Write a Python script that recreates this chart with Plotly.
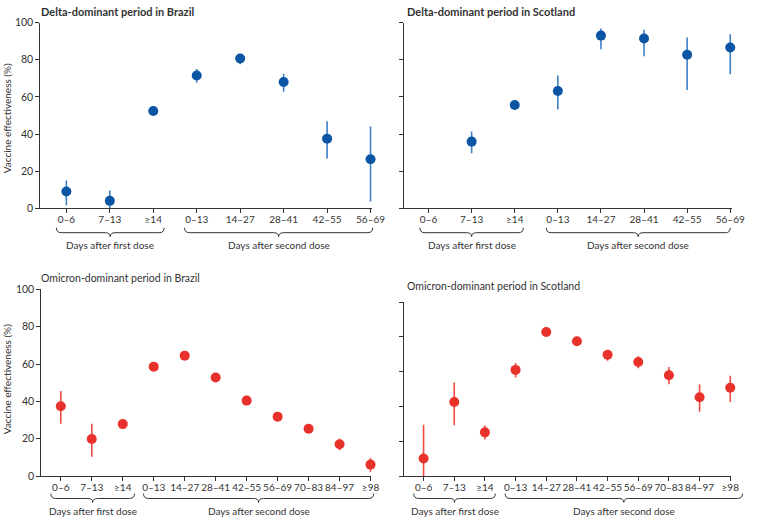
import plotly.graph_objects as go

# ---- data ----
delta_cats = ["0–6", "7–13", "≥14", "0–13", "14–27", "28–41", "42–55", "56–69"]
omicron_cats = ["0–6", "7–13", "≥14", "0–13", "14–27", "28–41", "42–55",
                "56–69", "70–83", "84–97", "≥98"]

delta_brazil = [9, 4, 52.4, 71.5, 80.7, 68, 37.5, 26.4]
delta_brazil_lo = [1.6, 0, 51, 67.6, 77.6, 62.7, 26.8, 3.7]
delta_brazil_hi = [15, 9.6, 54, 75, 83, 72.5, 46.9, 44]

delta_scot = [None, 35.9, 55.6, 63.2, 93, 91.4, 82.7, 86.6]
delta_scot_lo = [None, 29.6, 54.5, 53.2, 85.7, 81.9, 63.7, 72.2]
delta_scot_hi = [None, 41.4, 56.8, 71.5, 96.8, 96.1, 92, 93.7]

omi_brazil = [37.4, 19.8, 27.8, 58.6, 64.5, 52.8, 40.4, 31.8, 25.3, 17, 6.1]
omi_brazil_lo = [28, 10.3, 26.5, 57.5, 63.5, 51.8, 39.4, 30.8, 24.3, 13.8, 2.1]
omi_brazil_hi = [45.5, 28, 29.5, 59.7, 65.5, 53.8, 41.4, 32.8, 26.3, 20, 9.6]

omi_scot = [10.1, 42.5, 25.1, 61, 82.8, 77.5, 69.7, 65.5, 57.9, 45.3, 50.7]
omi_scot_lo = [0, 29.2, 21, 56.6, 81.5, 76.2, 66.3, 62, 52.8, 36.9, 42.5]
omi_scot_hi = [29.4, 53.7, 29, 65, 84, 78.8, 72, 68.9, 62.7, 52.6, 57.7]

W, H = 758, 525
FONT = "Lato"
BLUE, BLUE_ERR = "#0b55a4", "#3f80c4"
RED, RED_ERR = "#e8312a", "#ee4a42"
AXIS = "#333333"
TXT = "#333333"
PAD = 0.03  # tiny extra room on the right so the last error bar is not clipped

# panel geometry in pixels: (x_left, x_right, y_bottom, y_top, x_range_start, n_cats)
panels = {
    1: (41, 377, 207, 17, -0.6, 8),
    2: (411, 743, 207, 17, -0.57, 8),
    3: (42, 377, 481, 290, -0.63, 11),
    4: (411, 743, 481, 303, -0.64, 11),
}


def scale(p):
    x0, x1, _, _, r0, n = panels[p]
    return (x1 - x0) / ((n - 1) - r0)


def px(p, v):
    x0, _, _, _, r0, _ = panels[p]
    return x0 + (v - r0) * scale(p)


fig = go.Figure()


def add_series(p, cats, y, lo, hi, col, ecol):
    plus = [None if v is None else h - v for v, h in zip(y, hi)]
    minus = [None if v is None else v - l for v, l in zip(y, lo)]
    sfx = "" if p == 1 else str(p)
    fig.add_trace(go.Scatter(
        x=cats, y=y, mode="markers",
        marker=dict(color=col, size=10),
        error_y=dict(type="data", symmetric=False, array=plus, arrayminus=minus,
                     color=ecol, thickness=1.6, width=0),
        xaxis="x" + sfx, yaxis="y" + sfx, cliponaxis=False, showlegend=False,
    ))


add_series(1, delta_cats, delta_brazil, delta_brazil_lo, delta_brazil_hi, BLUE, BLUE_ERR)
add_series(2, delta_cats, delta_scot, delta_scot_lo, delta_scot_hi, BLUE, BLUE_ERR)
add_series(3, omicron_cats, omi_brazil, omi_brazil_lo, omi_brazil_hi, RED, RED_ERR)
add_series(4, omicron_cats, omi_scot, omi_scot_lo, omi_scot_hi, RED, RED_ERR)

layout = dict(
    width=W, height=H, margin=dict(l=0, r=0, t=0, b=0),
    paper_bgcolor="white", plot_bgcolor="white",
    font=dict(family=FONT, size=10, color=TXT),
    showlegend=False,
)

for p, (x0, x1, yb, yt, r0, n) in panels.items():
    sfx = "" if p == 1 else str(p)
    x1p = x1 + PAD * scale(p)
    layout["xaxis" + sfx] = dict(
        type="category", domain=[x0 / W, x1p / W], range=[r0, n - 1 + PAD],
        anchor="y" + sfx, showgrid=False, zeroline=False,
        showline=True, linecolor=AXIS, linewidth=1,
        ticks="outside", ticklen=4, tickcolor=AXIS, tickwidth=1,
        tickangle=0, ticklabelstandoff=-2,
        tickfont=dict(size=10, color=TXT),
    )
    layout["yaxis" + sfx] = dict(
        domain=[1 - yb / H, 1 - yt / H], range=[0, 100],
        anchor="x" + sfx, showgrid=False, zeroline=False,
        showline=True, linecolor=AXIS, linewidth=1,
        ticks="outside", ticklen=4, tickcolor=AXIS, tickwidth=1,
        tickvals=[0, 20, 40, 60, 80, 100],
        showticklabels=p in (1, 3), ticklabelstandoff=0,
        tickfont=dict(size=10.5, color=TXT),
    )

fig.update_layout(**layout)

# titles
titles = [
    ("<b>Delta-dominant period in Brazil</b>", 40, 6, 11),
    ("<b>Delta-dominant period in Scotland</b>", 412, 6, 11),
    ("Omicron-dominant period in Brazil", 40, 278, 10.5),
    ("Omicron-dominant period in Scotland", 412, 287, 10.5),
]
for t, x, y, s in titles:
    fig.add_annotation(text=t, x=x / W, y=1 - y / H, xref="paper", yref="paper",
                       xanchor="left", yanchor="middle", showarrow=False,
                       font=dict(size=s, color=TXT))

for yc in (115, 382):
    fig.add_annotation(text="Vaccine effectiveness (%)", x=7 / W, y=1 - yc / H,
                       xref="paper", yref="paper", textangle=-90,
                       xanchor="center", yanchor="middle", showarrow=False,
                       font=dict(size=10, color=TXT))


# braces under the category labels
def brace(p, a, b, ytop, label):
    xa, xb = px(p, a), px(p, b)
    xc = (xa + xb) / 2
    ym, yt2 = ytop + 5, ytop + 9
    r = 5
    pts = lambda x, y: f"{x / W:.5f},{1 - y / H:.5f}"
    path = (f"M {pts(xa, ytop)} Q {pts(xa, ym)} {pts(xa + r, ym)} "
            f"L {pts(xc - r, ym)} Q {pts(xc, ym)} {pts(xc, yt2)} "
            f"Q {pts(xc, ym)} {pts(xc + r, ym)} "
            f"L {pts(xb - r, ym)} Q {pts(xb, ym)} {pts(xb, ytop)}")
    fig.add_shape(type="path", path=path, xref="paper", yref="paper",
                  line=dict(color=TXT, width=1))
    fig.add_annotation(text=label, x=xc / W, y=1 - (ytop + 18) / H,
                       xref="paper", yref="paper", xanchor="center",
                       yanchor="middle", showarrow=False,
                       font=dict(size=10, color=TXT))


brace(1, -0.23, 2.25, 227, "Days after first dose")
brace(1, 2.72, 7.05, 227, "Days after second dose")
brace(2, -0.2, 2.2, 227, "Days after first dose")
brace(2, 2.73, 7.0, 227, "Days after second dose")
brace(3, -0.32, 2.38, 499, "Days after first dose")
brace(3, 2.67, 10.1, 499, "Days after second dose")
brace(4, -0.32, 2.34, 499, "Days after first dose")
brace(4, 2.66, 10.4, 499, "Days after second dose")

# remove the default page margin so the figure sits at the window origin
fig.write_html("out.html", config={"displayModeBar": False},
               post_script="document.body.style.margin='0px';")
